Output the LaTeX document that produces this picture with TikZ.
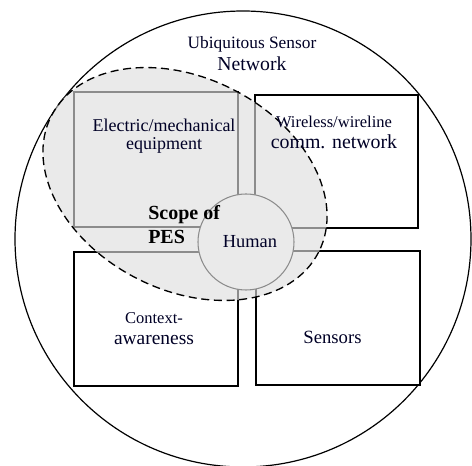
\documentclass[tikz,border=0pt]{standalone}
\usepackage{fontspec}
\setmainfont{Liberation Serif}

\begin{document}
\begin{tikzpicture}[x=0.75pt, y=-0.75pt,
    frame/.style={draw=black, line width=1pt, fill=white, inner sep=0pt},
    label/.style={align=center, inner sep=0pt, text=black!85!blue}]
    \useasboundingbox (0,0) rectangle (472,466);

    % Outer circle of the sensor network
    \node[draw, circle, line width=0.9pt, minimum size=342pt, inner sep=0pt] (usn) at (243,239) {};

    % The four blocks around the human
    \node[frame, minimum width=123pt, minimum height=101.25pt] (elec) at (156,159.5) {};
    \node[frame, minimum width=122.25pt, minimum height=99.75pt] (wire) at (336.5,161.5) {};
    \node[frame, minimum width=123pt, minimum height=100.5pt] (ctx) at (156,319) {};
    \node[frame, minimum width=123pt, minimum height=100.5pt] (sens) at (338,318) {};

    % Human in the middle
    \node[draw, circle, line width=0.8pt, fill=white, minimum size=72pt, inner sep=0pt] (human) at (246,242) {};

    % Scope of PES (shaded, dashed)
    \fill[black!13, fill opacity=0.63, rotate around={-27:(185,184)}] (185,184) ellipse [x radius=150, y radius=106];
    \draw[line width=1pt, dash pattern=on 6pt off 3.5pt, rotate around={-27:(185,184)}] (185,184) ellipse [x radius=150, y radius=106];

    % Labels
    \node[label, font=\fontsize{13}{16.5}\selectfont] (usnlbl) at (252,54) {Ubiquitous Sensor\\{\fontsize{14.8}{16.5}\selectfont Network}};
    \node[label, font=\fontsize{13.5}{13.9}\selectfont] (eleclbl) at (164,136) {Electric/mechanical\\equipment};
    \node[label, font=\fontsize{12.4}{15.75}\selectfont] (wirelbl) at (334,132.5) {Wireless/wireline\\{\fontsize{14.9}{15.75}\selectfont comm. network}};
    \node[label, font=\fontsize{12.4}{15.75}\selectfont] (ctxlbl) at (154,328.5) {Context-\\{\fontsize{14.6}{15.75}\selectfont awareness}};
    \node[label, font=\fontsize{14}{16}\selectfont] (senslbl) at (332.5,337) {Sensors};
    \node[label, font=\fontsize{13.8}{16}\selectfont] (humanlbl) at (250,242) {Human};
    \node[label, align=left, anchor=west, text=black, font=\bfseries\fontsize{15}{18}\selectfont] (pes) at (148,225) {Scope of\\PES};

\end{tikzpicture}
\end{document}
